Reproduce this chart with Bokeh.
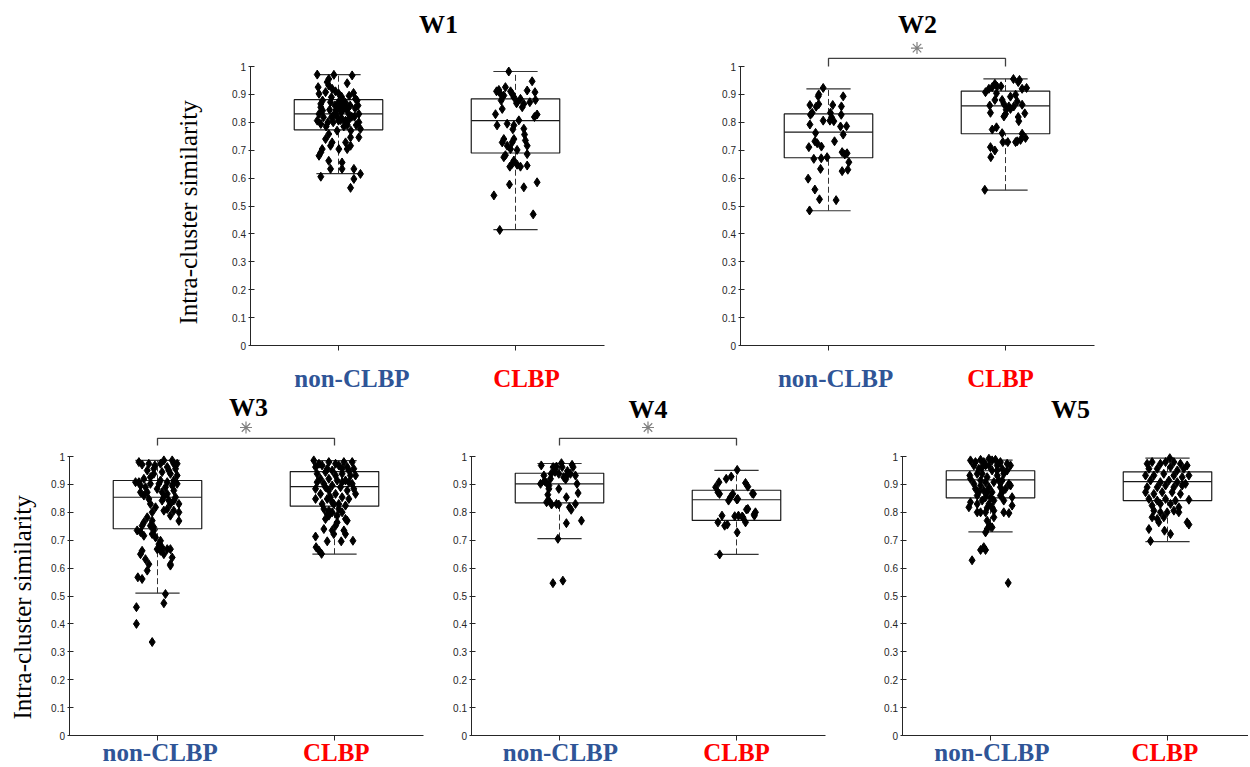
import math
from bokeh.plotting import figure
from bokeh.models import LinearAxis, FixedTicker, Range1d
from bokeh.layouts import column, row
from bokeh.embed import file_html
from bokeh.resources import INLINE
from bokeh.core.properties import value

# ---------------- data ----------------
categories = ["non-CLBP", "CLBP"]
cat_colors = ["#2F5597", "#FF0000"]
cat_pos = [1, 2]
panel_titles = ["W1", "W2", "W3", "W4", "W5"]
significant = [False, True, True, True, False]
y_ticks = [0, 0.1, 0.2, 0.3, 0.4, 0.5, 0.6, 0.7, 0.8, 0.9, 1]
y_tick_labels = ["0", "0.1", "0.2", "0.3", "0.4", "0.5", "0.6", "0.7", "0.8", "0.9", "1"]
y_label = "Intra-cluster similarity"

# box statistics per panel: [non-CLBP, CLBP]
w_lo = [[0.616, 0.415], [0.483, 0.557], [0.510, 0.650], [0.706, 0.649], [0.730, 0.695]]
w_q1 = [[0.773, 0.690], [0.673, 0.759], [0.741, 0.822], [0.834, 0.771], [0.852, 0.842]]
w_med = [[0.830, 0.806], [0.765, 0.859], [0.854, 0.892], [0.902, 0.845], [0.916, 0.910]]
w_q3 = [[0.881, 0.884], [0.830, 0.912], [0.914, 0.946], [0.940, 0.879], [0.949, 0.945]]
w_hi = [[0.971, 0.982], [0.920, 0.956], [0.986, 0.985], [0.975, 0.950], [0.987, 0.994]]

# individual points: (jitter offset from category, similarity)
w1_non = [(-0.120,0.971),(-0.026,0.970),(0.077,0.968),(0.049,0.940),
    (-0.055,0.955),(-0.064,0.944),(-0.055,0.932),(-0.036,0.920),(-0.017,0.911),(0.002,0.902),(0.017,0.892),(0.025,0.880),(0.021,0.868),(0.002,0.856),(-0.013,0.844),(-0.021,0.832),(-0.008,0.820),(0.011,0.808),
    (-0.115,0.926),(-0.110,0.902),(-0.073,0.908),(0.096,0.884),(0.105,0.878),(-0.045,0.872),(-0.100,0.854),(-0.090,0.842),(-0.110,0.830),(0.049,0.848),(0.058,0.830),(0.115,0.830),(-0.026,0.824),(0.020,0.812),(0.040,0.806),(-0.120,0.806),(-0.100,0.794),(0.115,0.800),(0.124,0.776),(-0.008,0.770),(-0.055,0.758),(0.068,0.746),(0.115,0.746),(-0.073,0.740),(-0.036,0.728),(0.040,0.728),(-0.092,0.704),(0.002,0.704),(-0.045,0.716),(0.068,0.716),(-0.100,0.692),(-0.110,0.680),(0.049,0.704),(-0.055,0.662),(0.020,0.656),(-0.045,0.633),(0.020,0.633),(0.087,0.633),(0.124,0.615),(-0.100,0.605),(0.087,0.597),(0.068,0.565),
    (-0.090,0.878),(0.000,0.872),(0.030,0.860),(-0.020,0.860),(0.040,0.850),(-0.040,0.818),(0.000,0.806),(0.066,0.860),(-0.085,0.818),(-0.060,0.800),(0.013,0.836),(0.075,0.820),(0.094,0.850),(0.050,0.790),(0.030,0.785),(-0.070,0.785),(0.060,0.895),(0.085,0.905),(-0.040,0.890),(0.040,0.870),(-0.100,0.866),(0.110,0.860),(0.090,0.820),(0.020,0.840),(-0.050,0.845),(0.060,0.810),(0.100,0.790),(-0.030,0.800),(0.070,0.770)]
w1_clbp = [(-0.038,0.982),(0.094,0.947),(-0.107,0.911),(-0.057,0.926),(-0.028,0.911),(0.066,0.914),(0.110,0.908),(-0.085,0.902),(-0.066,0.896),(-0.009,0.890),(0.028,0.884),(0.047,0.866),(0.081,0.872),(0.113,0.880),(-0.081,0.878),(-0.075,0.848),(0.009,0.872),(-0.113,0.829),(0.122,0.828),(0.107,0.819),(0.019,0.807),(-0.104,0.789),(-0.047,0.795),(0.047,0.777),(-0.015,0.775),(0.051,0.756),(-0.066,0.740),(-0.075,0.728),(-0.009,0.740),(0.056,0.735),(-0.019,0.728),(-0.047,0.716),(-0.028,0.704),(0.009,0.701),(0.066,0.686),(-0.057,0.682),(-0.066,0.675),(-0.009,0.663),(-0.019,0.651),(0.009,0.648),(0.028,0.641),(0.066,0.645),(-0.032,0.641),(0.122,0.585),(-0.034,0.577),(0.047,0.567),(-0.122,0.538),(0.100,0.470),(-0.089,0.414),
    (-0.094,0.916),(-0.019,0.902),(0.006,0.868),(0.038,0.854),(-0.009,0.789),(0.066,0.716)]
w2_non = [(-0.030,0.923),(-0.055,0.900),(-0.058,0.893),(0.083,0.893),(-0.105,0.862),(-0.070,0.856),(-0.055,0.865),(0.024,0.862),(0.073,0.857),(-0.102,0.827),(-0.092,0.834),(0.011,0.834),(0.017,0.818),(-0.030,0.806),(0.008,0.806),(0.030,0.804),(0.072,0.827),(-0.105,0.792),(0.068,0.785),(0.102,0.786),(-0.073,0.762),(0.083,0.756),(-0.077,0.732),(-0.064,0.725),(0.034,0.732),(-0.111,0.711),(-0.040,0.713),(0.077,0.693),(0.092,0.685),(0.105,0.689),(-0.083,0.669),(-0.041,0.671),(-0.008,0.675),(0.115,0.657),(-0.045,0.633),(0.077,0.625),(0.109,0.630),(-0.115,0.598),(-0.077,0.559),(-0.051,0.524),(0.043,0.521),(-0.107,0.484)]
w2_clbp = [(0.045,0.955),(0.079,0.952),(-0.060,0.938),(-0.047,0.928),(-0.075,0.926),(-0.025,0.929),(-0.113,0.908),(-0.094,0.920),(-0.051,0.904),(0.057,0.899),(0.094,0.920),(0.119,0.923),(0.072,0.944),(0.028,0.892),(-0.019,0.880),(-0.060,0.880),(-0.089,0.860),(-0.009,0.866),(0.019,0.857),(0.047,0.857),(0.066,0.875),(0.094,0.863),(0.004,0.845),(0.028,0.848),(-0.085,0.834),(0.000,0.830),(0.109,0.832),(-0.009,0.821),(0.072,0.819),(0.075,0.804),(-0.051,0.782),(-0.075,0.774),(-0.019,0.761),(0.094,0.759),(0.113,0.744),(0.085,0.737),(0.057,0.729),(0.066,0.732),(-0.015,0.729),(0.013,0.729),(-0.085,0.711),(-0.060,0.699),(-0.083,0.675),(-0.117,0.558)]
w3_non = [(-0.105,0.980),(-0.087,0.971),(-0.049,0.974),(-0.015,0.968),(0.036,0.986),(0.083,0.986),(0.111,0.974),(0.017,0.974),(0.055,0.962),(0.102,0.956),
    (-0.124,0.908),(-0.105,0.908),(-0.077,0.920),(-0.040,0.926),(-0.021,0.938),(0.026,0.944),(0.073,0.938),(0.111,0.932),(0.092,0.914),(0.055,0.908),(0.017,0.914),(0.008,0.902),(0.045,0.890),(0.083,0.896),(0.111,0.902),(-0.096,0.896),(-0.068,0.890),
    (-0.096,0.872),(-0.077,0.860),(-0.058,0.872),(0.026,0.872),(0.055,0.866),(0.092,0.878),(0.102,0.854),(0.026,0.842),(0.064,0.842),(-0.040,0.830),(-0.011,0.818),(0.036,0.806),(0.121,0.830),(0.121,0.800),(0.092,0.806),(0.121,0.769),(0.073,0.788),(0.055,0.812),(-0.030,0.800),
    (-0.058,0.782),(-0.077,0.764),(-0.087,0.752),(-0.030,0.770),(-0.040,0.752),(-0.021,0.746),(-0.115,0.735),(-0.096,0.729),(-0.077,0.716),(-0.030,0.722),(-0.021,0.735),(-0.011,0.710),(0.017,0.698),(0.008,0.686),(0.026,0.674),(0.055,0.668),(0.073,0.668),(-0.002,0.668),(-0.087,0.662),(0.017,0.662),
    (-0.096,0.650),(-0.068,0.632),(0.036,0.650),(0.083,0.638),(0.073,0.614),(-0.049,0.614),(-0.058,0.591),(0.073,0.609),(-0.111,0.567),(-0.087,0.561),(0.045,0.507),(0.036,0.474),(-0.119,0.460),(-0.119,0.400),(-0.030,0.335),
    (-0.058,0.950),(-0.040,0.902),(-0.002,0.884),(0.036,0.854),(0.073,0.830),(0.092,0.842),(-0.049,0.848),(0.064,0.950),(0.092,0.974),(-0.021,0.956)]
w3_clbp = [(-0.117,0.986),(-0.032,0.980),(0.053,0.980),(0.100,0.980),(-0.107,0.962),(-0.070,0.968),(0.024,0.968),(0.072,0.962),(0.109,0.956),(-0.098,0.938),(-0.051,0.944),(-0.013,0.950),(0.043,0.938),(0.090,0.932),(0.119,0.932),(-0.079,0.920),(-0.032,0.920),(0.015,0.914),(0.062,0.914),(0.100,0.902),(-0.060,0.902),(-0.013,0.896),(0.034,0.890),(-0.107,0.884),(-0.032,0.878),(0.072,0.878),(0.119,0.866),(-0.079,0.866),(0.006,0.866),(0.043,0.854),(-0.107,0.848),(-0.041,0.848),(0.081,0.848),(-0.013,0.836),(0.024,0.830),(-0.070,0.830),(0.062,0.824),(-0.060,0.812),(-0.032,0.806),(-0.041,0.794),(-0.013,0.800),(-0.032,0.788),(0.024,0.812),(0.062,0.776),(0.072,0.770),(0.015,0.764),(0.006,0.752),(-0.060,0.740),(-0.013,0.735),(0.053,0.735),(-0.004,0.722),(-0.107,0.713),(0.062,0.722),(-0.041,0.696),(0.038,0.696),(0.104,0.698),(-0.104,0.675),(-0.088,0.663),(-0.073,0.651),
    (-0.088,0.974),(0.006,0.974),(0.043,0.956),(-0.041,0.956),(0.006,0.932),(0.081,0.908),(-0.051,0.890),(0.043,0.908),(0.081,0.950),(-0.023,0.854),(0.015,0.788),(-0.051,0.776),(-0.098,0.908),(0.109,0.884),(-0.004,0.830),(0.043,0.800)]
w4_non = [(-0.103,0.968),(-0.036,0.962),(-0.017,0.964),(0.011,0.976),(0.015,0.962),(0.071,0.970),(0.077,0.962),(-0.088,0.932),(-0.047,0.938),(-0.004,0.938),(0.043,0.932),(0.062,0.938),(0.090,0.932),(-0.051,0.920),(0.024,0.926),(-0.107,0.902),(-0.073,0.905),(-0.060,0.896),(0.099,0.902),(-0.060,0.884),(-0.004,0.884),(-0.066,0.863),(0.039,0.854),(0.105,0.869),(-0.060,0.842),(-0.073,0.836),(-0.045,0.828),(-0.017,0.830),(-0.004,0.828),(0.056,0.818),(0.066,0.809),(0.090,0.830),(0.039,0.761),(0.124,0.770),(-0.009,0.705),(-0.037,0.546),(0.019,0.555),
    (-0.025,0.945),(0.045,0.948),(-0.085,0.912),(0.035,0.918)]
w4_clbp = [(0.004,0.952),(-0.099,0.908),(-0.058,0.920),(-0.030,0.928),(-0.118,0.890),(-0.105,0.872),(0.051,0.905),(0.064,0.892),(-0.021,0.866),(-0.034,0.854),(0.007,0.848),(0.096,0.866),(-0.045,0.842),(-0.096,0.866),(0.064,0.812),(0.107,0.800),(0.101,0.788),(-0.082,0.788),(0.011,0.788),(0.036,0.782),(0.051,0.764),(-0.105,0.764),(-0.067,0.752),(-0.052,0.756),(0.004,0.728),(-0.095,0.649),(0.090,0.867),(0.056,0.810),(0.032,0.785),(-0.010,0.786),(0.002,0.846),(0.100,0.793)]
w5_non = [(-0.113,0.986),(-0.085,0.980),(-0.056,0.988),(-0.038,0.980),(-0.009,0.992),(0.009,0.986),(0.028,0.988),(-0.094,0.968),(-0.028,0.968),(0.038,0.968),(0.066,0.956),(0.113,0.968),(0.094,0.950),(-0.066,0.956),(0.009,0.950),(-0.117,0.932),(-0.113,0.920),(-0.047,0.938),(-0.019,0.926),(0.038,0.932),(0.075,0.938),(-0.056,0.914),(-0.028,0.908),(0.019,0.908),(0.066,0.914),(0.113,0.896),(0.104,0.902),(-0.056,0.896),(-0.009,0.890),(0.056,0.890),(-0.038,0.878),(-0.066,0.872),(-0.075,0.860),(0.009,0.872),(0.066,0.872),(-0.028,0.854),(0.056,0.860),(-0.047,0.842),(-0.113,0.836),(0.122,0.854),(-0.009,0.830),(-0.122,0.818),(-0.075,0.830),(-0.019,0.816),(0.122,0.824),(0.019,0.806),(-0.075,0.800),(-0.056,0.800),(-0.028,0.800),(0.075,0.800),(0.104,0.797),(0.019,0.782),(-0.019,0.770),(-0.004,0.752),(-0.019,0.740),(0.009,0.746),(-0.028,0.728),(-0.038,0.675),(-0.056,0.665),(-0.028,0.665),(-0.104,0.628),(0.100,0.547),
    (-0.094,0.902),(0.038,0.950),(-0.075,0.938),(0.047,0.914),(0.000,0.854),(0.019,0.842),(0.075,0.842),(0.085,0.884),(-0.009,0.968),(-0.047,0.962),(0.056,0.980),(0.094,0.974),(-0.019,0.872),(-0.085,0.884),(0.009,0.818)]
w5_clbp = [(0.013,0.994),(-0.115,0.974),(-0.087,0.980),(-0.040,0.974),(-0.011,0.980),(0.036,0.980),(0.073,0.974),(0.111,0.968),(-0.105,0.956),(-0.058,0.956),(0.017,0.962),(0.055,0.950),(0.092,0.956),(-0.124,0.932),(-0.077,0.932),(-0.021,0.938),(0.036,0.932),(0.083,0.926),(0.121,0.932),(-0.096,0.914),(-0.040,0.908),(0.008,0.914),(0.055,0.908),(0.102,0.902),(-0.115,0.890),(-0.058,0.890),(-0.011,0.896),(0.036,0.890),(0.083,0.896),(-0.124,0.872),(-0.077,0.866),(-0.030,0.872),(0.026,0.872),(0.073,0.866),(-0.105,0.848),(-0.058,0.842),(-0.011,0.848),(0.045,0.842),(0.121,0.845),(-0.087,0.824),(-0.040,0.830),(0.017,0.830),(0.064,0.818),(-0.077,0.806),(-0.040,0.800),(-0.002,0.800),(0.036,0.806),(0.064,0.800),(-0.087,0.782),(-0.058,0.776),(-0.021,0.782),(-0.049,0.764),(0.111,0.764),(0.121,0.756),(-0.105,0.740),(-0.017,0.734),(0.017,0.722),(-0.096,0.697)]

points = [(w1_non, w1_clbp), (w2_non, w2_clbp), (w3_non, w3_clbp), (w4_non, w4_clbp), (w5_non, w5_clbp)]

# ---------------- layout (page pixels) ----------------
PX_X = 177.0   # pixels per category unit
PX_Y = 279.0   # pixels per similarity unit
AXIS_COLOR = "#262626"
SERIF = "Liberation Serif"

geom = [
    dict(l=0, r=655, t=0, b=392, c1=338, y0=345, tx=1.565, ty=1.150, lbx=[1.076, 2.062], ly=-0.1165, by=1.029, bt=1.0, sy=1.066, lx=0.153, lyv=0.477),
    dict(l=655, r=1248, t=0, b=392, c1=828, y0=345, tx=1.503, ty=1.152, lbx=[1.040, 1.972], ly=-0.1165, by=1.029, bt=1.0, sy=1.066, lx=None, lyv=None),
    dict(l=0, r=445, t=392, b=766, c1=157, y0=735, tx=1.514, ty=1.176, lbx=[1.015, 2.010], ly=-0.0627, by=1.065, bt=1.039, sy=1.104, lx=0.237, lyv=0.459),
    dict(l=445, r=850, t=392, b=766, c1=559, y0=735, tx=1.500, ty=1.170, lbx=[1.005, 2.000], ly=-0.0627, by=1.065, bt=1.039, sy=1.104, lx=None, lyv=None),
    dict(l=850, r=1248, t=392, b=766, c1=990, y0=735, tx=1.452, ty=1.170, lbx=[1.008, 1.985], ly=-0.0627, by=1.065, bt=1.039, sy=1.104, lx=None, lyv=None),
]


def make_panel(i):
    g = geom[i]
    w = g["r"] - g["l"]
    h = g["b"] - g["t"]
    xr = Range1d(1 + (g["l"] - g["c1"]) / PX_X, 1 + (g["r"] - g["c1"]) / PX_X)
    yr = Range1d((g["y0"] - g["b"]) / PX_Y, (g["y0"] - g["t"]) / PX_Y)
    p = figure(width=w, height=h, x_range=xr, y_range=yr, output_backend="svg",
               toolbar_location=None, x_axis_type=None, y_axis_type=None,
               min_border=0, outline_line_color=None)
    p.xgrid.visible = False
    p.ygrid.visible = False

    yax = LinearAxis(fixed_location=0.5, bounds=(0, 1), ticker=FixedTicker(ticks=y_ticks),
                     major_label_overrides={t: s for t, s in zip(y_ticks, y_tick_labels)},
                     major_tick_in=4, major_tick_out=2, minor_tick_line_color=None,
                     major_label_standoff=2, major_label_text_font="Liberation Sans",
                     major_label_text_font_size="10px", major_label_text_color=AXIS_COLOR,
                     axis_line_color=AXIS_COLOR, major_tick_line_color=AXIS_COLOR)
    p.add_layout(yax, "left")

    xax = LinearAxis(fixed_location=0, bounds=(0.5, 2.5), ticker=FixedTicker(ticks=cat_pos),
                     major_label_overrides={1: "", 2: ""}, major_tick_in=0, major_tick_out=5,
                     minor_tick_line_color=None, axis_line_color=AXIS_COLOR,
                     major_tick_line_color=AXIS_COLOR)
    p.add_layout(xax, "below")

    lo, q1, med, q3, hi = w_lo[i], w_q1[i], w_med[i], w_q3[i], w_hi[i]
    p.segment(x0=cat_pos, y0=q3, x1=cat_pos, y1=hi, line_color="#333333", line_dash="6 3", line_width=1)
    p.segment(x0=cat_pos, y0=lo, x1=cat_pos, y1=q1, line_color="#333333", line_dash="6 3", line_width=1)
    p.segment(x0=[c - 0.125 for c in cat_pos], y0=hi, x1=[c + 0.125 for c in cat_pos], y1=hi,
              line_color="#333333", line_width=1.2)
    p.segment(x0=[c - 0.125 for c in cat_pos], y0=lo, x1=[c + 0.125 for c in cat_pos], y1=lo,
              line_color="#333333", line_width=1.2)
    p.quad(left=[c - 0.25 for c in cat_pos], right=[c + 0.25 for c in cat_pos], bottom=q1, top=q3,
           fill_color=None, line_color="#1a1a1a", line_width=1.2)
    p.segment(x0=[c - 0.25 for c in cat_pos], y0=med, x1=[c + 0.25 for c in cat_pos], y1=med,
              line_color="#1a1a1a", line_width=1.2)

    for c, pts in zip(cat_pos, points[i]):
        xs = [c + d for d, _ in pts]
        ys = [v for _, v in pts]
        p.scatter(xs, ys, marker="diamond", size=9, fill_color="black", line_color="black")

    if significant[i]:
        p.line(x=[1, 1, 2, 2], y=[g["bt"], g["by"], g["by"], g["bt"]], line_color="#404040", line_width=1.3)
        p.scatter([1.5], [g["sy"]], marker="asterisk", size=12, line_color="#808080", line_width=1.2)

    p.text(x=[g["tx"]], y=[g["ty"]], text=[panel_titles[i]], text_font=value(SERIF),
           text_font_style="bold", text_font_size="26px", text_align="center",
           text_baseline="middle", text_color="black")
    p.text(x=g["lbx"], y=[g["ly"], g["ly"]], text=categories, text_font=value(SERIF),
           text_font_style="bold", text_font_size="25px", text_align="center",
           text_baseline="middle", text_color=cat_colors)
    if g["lx"] is not None:
        p.text(x=[g["lx"]], y=[g["lyv"]], text=[y_label], text_font=value(SERIF),
               text_font_size="25px", text_align="center", text_baseline="middle",
               text_color="black", angle=math.pi / 2)
    return p


panels = [make_panel(i) for i in range(5)]
layout = column(row(panels[0], panels[1]), row(panels[2], panels[3], panels[4]))

open("out.html", "w").write(file_html(layout, INLINE))
